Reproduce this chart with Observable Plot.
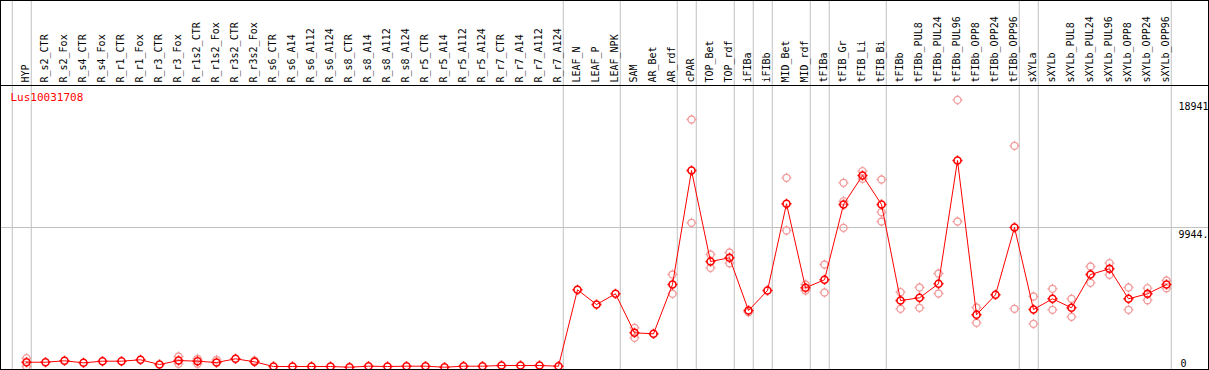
<!DOCTYPE html>
<html>
<head>
<meta charset="utf-8">
<script src="https://cdn.jsdelivr.net/npm/d3@7"></script>
<script src="https://cdn.jsdelivr.net/npm/@observablehq/plot@0.6"></script>
<style>
  html, body { margin: 0; padding: 0; background: #fff; }
  #chart svg { outline: 1px solid #000; outline-offset: -1px; }
</style>
</head>
<body>
<div id="chart"></div>
<script>
const geneTitle = "Lus10031708";

const labels = [
  "HYP","R_s2_CTR","R_s2_Fox","R_s4_CTR","R_s4_Fox","R_r1_CTR","R_r1_Fox","R_r3_CTR","R_r3_Fox",
  "R_r1s2_CTR","R_r1s2_Fox","R_r3s2_CTR","R_r3s2_Fox","R_s6_CTR","R_s6_A14","R_s6_A112","R_s6_A124",
  "R_s8_CTR","R_s8_A14","R_s8_A112","R_s8_A124","R_r5_CTR","R_r5_A14","R_r5_A112","R_r5_A124",
  "R_r7_CTR","R_r7_A14","R_r7_A112","R_r7_A124","LEAF_N","LEAF_P","LEAF_NPK","SAM","AR_Bet","AR_rdf",
  "cPAR","TOP_Bet","TOP_rdf","iFIBa","iFIBb","MID_Bet","MID_rdf","tFIBa","tFIB_Gr","tFIB_Li","tFIB_Bi",
  "tFIBb","tFIBb_PUL8","tFIBb_PUL24","tFIBb_PUL96","tFIBb_OPP8","tFIBb_OPP24","tFIBb_OPP96",
  "sXYLa","sXYLb","sXYLb_PUL8","sXYLb_PUL24","sXYLb_PUL96","sXYLb_OPP8","sXYLb_OPP24","sXYLb_OPP96"
];

// number of samples in each tissue group (separated by grey rules)
const groupSizes = [1, 28, 3, 3, 1, 2, 1, 1, 2, 1, 3, 7, 1, 7];

const means = [
  444, 444, 543, 402, 515, 515, 614, 282, 564,
  515, 423, 684, 472, 141, 141, 141, 141,
  92, 162, 141, 162, 162, 92, 162, 162,
  212, 212, 212, 162, 5550, 4513, 5268, 2518, 2447, 5924,
  13963, 7546, 7807, 4090, 5501, 11615, 5691, 6255, 11565, 13610, 11565,
  4795, 4986, 5973, 14668, 3787, 5197, 9943,
  4161, 4915, 4281, 6629, 7031, 4915, 5268, 5924
];

const replicates = [
  [726, 141], [], [], [], [], [], [], [], [846, 331],
  [684, 331], [614], [], [564], [], [], [], [],
  [], [], [], [], [], [], [], [],
  [], [], [], [], [], [], [], [2870, 2165], [], [6629, 5268],
  [17559, 10275], [8039, 7101], [8180, 7426], [3970], [], [13448, 9732], [5924, 5501], [7334, 5360], [13096, 11798, 9922], [13914, 13378], [13328, 11022, 10366],
  [5381, 4210], [5712, 4281], [6699, 5289], [18941, 10366], [4302, 3223], [], [15705, 4210],
  [5077, 3152], [5620, 4140], [4915, 3646], [7193, 6044], [7426, 6608], [5712, 4140], [5663, 4817], [6206, 5663]
];

const yTickValues = [0, 9944, 18941];
const yTickLabels = ["0", "9944.", "18941"];

// ---- derived tables ----
const samples = labels.map((name, i) => ({i, name, mean: means[i]}));
const reps = replicates.flatMap((vals, i) => vals.map(v => ({i, v})));
const seps = [-0.75];
{ let c = 0; for (const s of groupSizes) { c += s; seps.push(c - 1 + 0.25); } }
const yTicks = yTickValues.map((v, k) => ({v, label: yTickLabels[k]}));

// ring with four small stubs (bitmap-like marker)
const ring = {
  draw(ctx, size) {
    const r = Math.sqrt(size / Math.PI);
    ctx.moveTo(r, 0);
    ctx.arc(0, 0, r, 0, 2 * Math.PI);
    ctx.moveTo(0, -r); ctx.lineTo(0, -r - 1.5);
    ctx.moveTo(0, r); ctx.lineTo(0, r + 1.5);
    ctx.moveTo(-r, 0); ctx.lineTo(-r - 1.5, 0);
    ctx.moveTo(r, 0); ctx.lineTo(r + 1.5, 0);
  }
};

const chart = Plot.plot({
  width: 1209,
  height: 370,
  marginTop: 85,
  marginRight: 1,
  marginBottom: 1,
  marginLeft: 0,
  style: {fontFamily: "'DejaVu Sans Mono', monospace", fontSize: "10px", background: "#fff", color: "#000"},
  x: {type: "linear", domain: [0, labels.length - 1], range: [26, 1166], axis: null, label: null},
  y: {domain: [0, d3.max(yTickValues)], range: [368, 99.4], axis: null, label: null},
  marks: [
    Plot.ruleX(seps, {stroke: "#c0c0c0", insetTop: -85}),
    Plot.ruleY([yTickValues[1]], {stroke: "#c0c0c0"}),
    Plot.frame({stroke: "#000"}),
    Plot.axisX({
      anchor: "top",
      ticks: d3.range(labels.length),
      tickFormat: i => labels[i],
      tickRotate: -90,
      tickSize: 0,
      tickPadding: 3,
      label: null,
      dx: -1,
      fill: "#000"
    }),
    Plot.dot(reps, {x: "i", y: "v", r: 3.5, symbol: ring, fill: "none", stroke: "#f29a9a", strokeWidth: 1.3}),
    Plot.line(samples, {x: "i", y: "mean", stroke: "#ff0000", strokeWidth: 1}),
    Plot.dot(samples, {x: "i", y: "mean", r: 3.5, symbol: ring, fill: "none", stroke: "#ff0000", strokeWidth: 1.6}),
    Plot.text([geneTitle], {frameAnchor: "top-left", dx: 10, dy: 8, lineAnchor: "top", textAnchor: "start", fill: "#ff0000", fontSize: 11}),
    Plot.text(yTicks.filter(d => d.v > 0), {y: "v", text: "label", frameAnchor: "right", dx: -30, dy: 3, lineAnchor: "top", textAnchor: "start", fill: "#000"}),
    Plot.text(yTicks.filter(d => d.v === 0), {y: "v", text: "label", frameAnchor: "right", dx: -28, dy: -2, lineAnchor: "bottom", textAnchor: "start", fill: "#000"})
  ]
});
document.getElementById("chart").appendChild(chart);
</script>
</body>
</html>
